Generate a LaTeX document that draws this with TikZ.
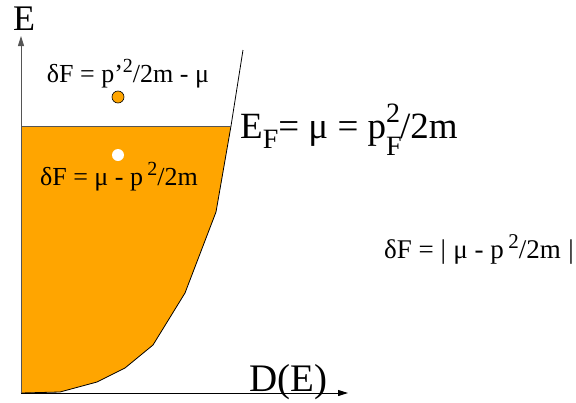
\documentclass[tikz,border=0pt]{standalone}
\usepackage{fontspec}
\setmainfont{Liberation Serif}
\usepackage{xcolor}
\usetikzlibrary{arrows.meta}
\definecolor{seaOrange}{HTML}{FFA500}
\definecolor{axisGray}{HTML}{555555}
% raised / lowered index of a given size
\newcommand{\upidx}[3]{\raisebox{#1}{\fontsize{#2}{#2}\selectfont #3}}

\begin{document}
\begin{tikzpicture}[x=1pt,y=-1pt,
    axis/.style={line width=1pt, -{Triangle[length=10pt,width=6pt]}},
    dot/.style={circle, minimum size=12pt, inner sep=0pt}]
    \useasboundingbox (0,0) rectangle (576,402);
    \coordinate (origin) at (21,393);
    \coordinate (ytop) at (21,36);
    \coordinate (xend) at (348,393);
    \coordinate (level) at (21,126);
    \coordinate (fermi) at (231,126);
    \coordinate (disptop) at (243,50);
    % occupied states below the Fermi level
    \fill[seaOrange] (origin) -- (level) -- (fermi) -- (216,212) -- (185,293) -- (153,345)
        -- (125,368) -- (97,382) -- (60,392) -- cycle;
    \draw[line width=0.8pt] (disptop) -- (fermi) -- (216,212) -- (185,293) -- (153,345)
        -- (125,368) -- (97,382) -- (60,392) -- (origin);
    \draw[line width=1pt, axisGray] (level) -- (fermi);
    \draw[axis, axisGray] (origin) -- (ytop);
    \draw[axis] (origin) -- (xend);
    \node[font=\fontsize{36}{38}\selectfont, anchor=base, inner sep=0pt] (elabel) at (24,30) {E};
    \node[font=\fontsize{39}{41}\selectfont, anchor=base east, inner sep=0pt] (dlabel) at (328,391) {D(E)};
    % quasiparticle above, hole below
    \node[dot, draw=black, fill=seaOrange, line width=0.6pt] (particle) at (118,97) {};
    \node[dot, fill=white] (hole) at (118,155) {};
    \node[font=\fontsize{26}{28}\selectfont, anchor=base, inner sep=0pt] (plabel) at (128,82)
        {δF = p'\upidx{10pt}{20}{2}/2m - μ};
    \node[font=\fontsize{26}{28}\selectfont, anchor=base, inner sep=0pt] (hlabel) at (119,185)
        {δF = μ - p\,\upidx{10pt}{20}{2}/2m};
    \node[font=\fontsize{37}{39}\selectfont, anchor=base west, inner sep=0pt] (eflabel) at (240,138)
        {E\upidx{-10pt}{28}{F}= μ = p\rlap{\upidx{-17pt}{28}{F}}\upidx{16pt}{28}{2}/2m};
    \node[font=\fontsize{27}{29}\selectfont, anchor=base east, inner sep=0pt] (dflabel) at (574,258)
        {δF = |\;μ - p\,\upidx{10pt}{21}{2}/2m\;|};
\end{tikzpicture}
\end{document}
